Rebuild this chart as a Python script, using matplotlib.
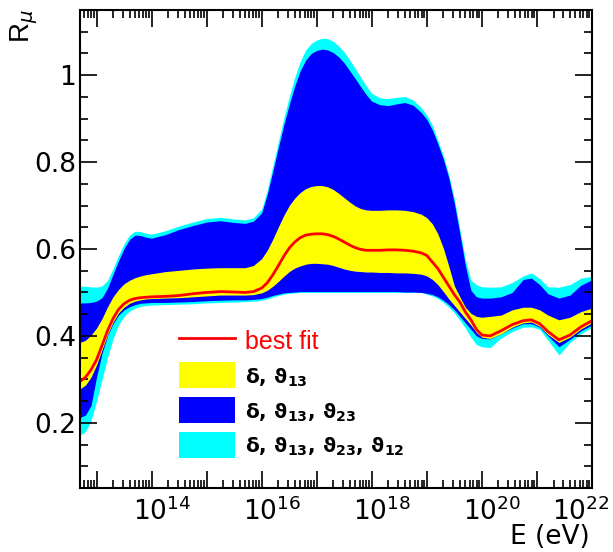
import numpy as np
import matplotlib
matplotlib.use("Agg")
import matplotlib.pyplot as plt
from matplotlib.ticker import LogLocator, MultipleLocator, FuncFormatter, NullFormatter
from matplotlib.transforms import blended_transform_factory, ScaledTranslation
from matplotlib.patches import Patch
from matplotlib.lines import Line2D

plt.rcParams["font.family"] = ["Liberation Sans", "DejaVu Sans"]
plt.rcParams["mathtext.fontset"] = "custom"
plt.rcParams["mathtext.rm"] = "DejaVu Sans"
plt.rcParams["mathtext.it"] = "DejaVu Sans:italic"
plt.rcParams["mathtext.bf"] = "DejaVu Sans:bold"

# log10(E / eV)
log_e = [12.7, 12.8, 12.9, 13.0, 13.1, 13.2, 13.3, 13.4, 13.5, 13.6,
         13.7, 13.8, 13.9, 14.0, 14.25, 14.5, 14.75, 15.0, 15.25, 15.5,
         15.7, 15.85, 16.0, 16.1, 16.2, 16.3, 16.4, 16.5, 16.6, 16.7,
         16.8, 16.9, 17.0, 17.1, 17.2, 17.3, 17.4, 17.5, 17.6, 17.7,
         17.8, 17.9, 18.0, 18.15, 18.3, 18.45, 18.6, 18.75, 18.9, 19.0,
         19.1, 19.2, 19.3, 19.4, 19.5, 19.6, 19.7, 19.8, 19.9, 20.0,
         20.15, 20.35, 20.55, 20.75, 20.9, 21.05, 21.2, 21.4, 21.6, 21.8, 22.0]

# best fit
r_best = [0.295, 0.305, 0.322, 0.345, 0.378, 0.412, 0.44, 0.461, 0.474, 0.482,
          0.486, 0.488, 0.489, 0.49, 0.491, 0.493, 0.497, 0.5, 0.502, 0.501,
          0.5, 0.502, 0.51, 0.522, 0.54, 0.561, 0.583, 0.602, 0.616, 0.626,
          0.632, 0.634, 0.635, 0.635, 0.633, 0.629, 0.623, 0.616, 0.609, 0.603,
          0.599, 0.597, 0.597, 0.597, 0.598, 0.598, 0.597, 0.595, 0.591, 0.585,
          0.57, 0.555, 0.535, 0.515, 0.495, 0.478, 0.455, 0.437, 0.415, 0.402,
          0.4, 0.412, 0.426, 0.435, 0.437, 0.428, 0.41, 0.391, 0.402, 0.421, 0.435]

# delta, theta13
y_lo = [0.278, 0.287, 0.305, 0.333, 0.368, 0.403, 0.432, 0.453, 0.466, 0.475,
        0.48, 0.483, 0.485, 0.486, 0.487, 0.488, 0.49, 0.492, 0.494, 0.494,
        0.494, 0.495, 0.499, 0.505, 0.514, 0.525, 0.537, 0.548, 0.556, 0.561,
        0.565, 0.567, 0.567, 0.566, 0.565, 0.562, 0.558, 0.554, 0.551, 0.549,
        0.548, 0.547, 0.547, 0.546, 0.546, 0.545, 0.545, 0.544, 0.542, 0.538,
        0.53, 0.518, 0.502, 0.485, 0.47, 0.455, 0.44, 0.425, 0.408, 0.397,
        0.394, 0.405, 0.42, 0.43, 0.432, 0.422, 0.403, 0.385, 0.397, 0.416, 0.43]
y_hi = [0.385, 0.39, 0.402, 0.418, 0.44, 0.467, 0.49, 0.507, 0.52, 0.528,
        0.534, 0.538, 0.541, 0.543, 0.548, 0.551, 0.554, 0.556, 0.557, 0.557,
        0.557, 0.562, 0.578, 0.597, 0.622, 0.65, 0.677, 0.7, 0.717, 0.73,
        0.739, 0.744, 0.746, 0.746, 0.743, 0.737, 0.728, 0.718, 0.708, 0.699,
        0.693, 0.69, 0.689, 0.689, 0.69, 0.69, 0.689, 0.686, 0.68, 0.672,
        0.658, 0.635, 0.602, 0.56, 0.515, 0.49, 0.466, 0.452, 0.445, 0.443,
        0.445, 0.448, 0.46, 0.466, 0.466, 0.46, 0.448, 0.437, 0.443, 0.456, 0.464]

# delta, theta13, theta23
b_lo = [0.212, 0.218, 0.24, 0.305, 0.36, 0.4, 0.428, 0.448, 0.46, 0.467,
        0.472, 0.475, 0.476, 0.477, 0.477, 0.478, 0.479, 0.481, 0.482, 0.483,
        0.483, 0.484, 0.486, 0.489, 0.493, 0.496, 0.499, 0.5, 0.501, 0.502,
        0.502, 0.502, 0.502, 0.502, 0.502, 0.502, 0.502, 0.502, 0.502, 0.502,
        0.502, 0.502, 0.502, 0.502, 0.502, 0.502, 0.501, 0.501, 0.5, 0.498,
        0.495, 0.49, 0.482, 0.472, 0.46, 0.445, 0.43, 0.415, 0.4, 0.394,
        0.393, 0.405, 0.418, 0.428, 0.428, 0.42, 0.4, 0.375, 0.392, 0.412, 0.425]
b_hi = [0.476, 0.476, 0.477, 0.48, 0.488, 0.51, 0.542, 0.573, 0.601, 0.622,
        0.632, 0.631, 0.627, 0.625, 0.633, 0.645, 0.654, 0.662, 0.665, 0.661,
        0.659, 0.664, 0.683, 0.725, 0.778, 0.832, 0.885, 0.932, 0.975, 1.01,
        1.035, 1.05, 1.057, 1.06, 1.058, 1.052, 1.042, 1.028, 1.01, 0.992,
        0.973, 0.955, 0.94, 0.932, 0.93, 0.934, 0.937, 0.931, 0.914, 0.898,
        0.874, 0.842, 0.807, 0.763, 0.705, 0.635, 0.562, 0.505, 0.49, 0.487,
        0.487, 0.49, 0.5, 0.53, 0.533, 0.518, 0.497, 0.487, 0.494, 0.517, 0.529]

# delta, theta13, theta23, theta12
c_lo = [0.172, 0.18, 0.205, 0.25, 0.3, 0.35, 0.393, 0.425, 0.445, 0.457,
        0.464, 0.468, 0.47, 0.471, 0.472, 0.473, 0.474, 0.476, 0.477, 0.478,
        0.479, 0.48, 0.482, 0.485, 0.489, 0.493, 0.496, 0.498, 0.499, 0.5,
        0.5, 0.5, 0.5, 0.5, 0.5, 0.5, 0.5, 0.5, 0.5, 0.5,
        0.5, 0.5, 0.5, 0.5, 0.5, 0.5, 0.5, 0.5, 0.5, 0.496,
        0.492, 0.486, 0.477, 0.466, 0.453, 0.436, 0.418, 0.397, 0.38, 0.375,
        0.373, 0.395, 0.41, 0.42, 0.421, 0.415, 0.39, 0.356, 0.385, 0.405, 0.42]
c_hi = [0.515, 0.514, 0.513, 0.512, 0.515, 0.528, 0.555, 0.585, 0.612, 0.632,
        0.641, 0.64, 0.636, 0.634, 0.642, 0.653, 0.662, 0.67, 0.673, 0.669,
        0.667, 0.672, 0.692, 0.735, 0.79, 0.845, 0.9, 0.95, 0.995, 1.032,
        1.058, 1.073, 1.081, 1.085, 1.084, 1.078, 1.067, 1.053, 1.035, 1.015,
        0.995, 0.975, 0.958, 0.948, 0.946, 0.949, 0.951, 0.943, 0.925, 0.908,
        0.885, 0.85, 0.815, 0.77, 0.715, 0.645, 0.575, 0.528, 0.518, 0.513,
        0.512, 0.513, 0.523, 0.538, 0.545, 0.532, 0.513, 0.512, 0.518, 0.533, 0.537]

labels = ["best fit",
          r"$\mathbf{\delta,\,\vartheta_{13}}$",
          r"$\mathbf{\delta,\,\vartheta_{13},\,\vartheta_{23}}$",
          r"$\mathbf{\delta,\,\vartheta_{13},\,\vartheta_{23},\,\vartheta_{12}}$"]
label_decades = [14, 16, 18, 20, 22]

energy = 10.0 ** np.array(log_e)

fig = plt.figure(figsize=(6.13, 5.52), dpi=100)
ax = fig.add_axes([80 / 613, 1 - 488 / 552, 512 / 613, 478 / 552])

ax.fill_between(energy, c_lo, c_hi, color="#00ffff", linewidth=0)
ax.fill_between(energy, b_lo, b_hi, color="#0000ff", linewidth=0)
ax.fill_between(energy, y_lo, y_hi, color="#ffff00", linewidth=0)
ax.plot(energy, r_best, color="#ff0000", linewidth=2)

ax.set_xscale("log")
ax.set_xlim(10 ** 12.7, 1e22)
ax.set_ylim(0.05, 1.15)

ax.xaxis.set_major_locator(LogLocator(base=10, numticks=30))
ax.xaxis.set_minor_locator(LogLocator(base=10, subs=np.arange(2, 10), numticks=30))
ax.xaxis.set_major_formatter(NullFormatter())
ax.xaxis.set_minor_formatter(NullFormatter())
ax.yaxis.set_major_locator(MultipleLocator(0.2))
ax.yaxis.set_minor_locator(MultipleLocator(0.05))
ax.yaxis.set_major_formatter(FuncFormatter(lambda v, p: "%g" % round(v, 2)))

ax.tick_params(which="both", direction="in", top=True, right=True, width=1.2)
ax.tick_params(which="major", length=12.5)
ax.tick_params(which="minor", length=5.8)
ax.tick_params(axis="y", which="major", pad=3, labelsize=19)
for lab in ax.get_yticklabels():
    lab.set_family("DejaVu Sans")
for s in ax.spines.values():
    s.set_linewidth(1.5)

# decade labels: the "10" sits on the tick, the exponent hangs to the right
xtrans = blended_transform_factory(ax.transData, ax.transAxes)
for n in label_decades:
    if n == label_decades[-1]:
        off = ScaledTranslation(0.18, -0.32, fig.dpi_scale_trans)
        ha = "right"
    else:
        off = ScaledTranslation(-0.185, -0.32, fig.dpi_scale_trans)
        ha = "left"
    ax.text(10.0 ** n, 0, r"$10^{%d}$" % n, transform=xtrans + off,
            ha=ha, va="baseline", fontsize=19, family="DejaVu Sans")

fig.text(24 / 613, 1 - 9 / 552, r"R$_{\mu}$", rotation=90, ha="center", va="top", fontsize=20)
fig.text(590 / 613, 1 - 544 / 552, "E (eV)", ha="right", va="baseline", fontsize=19,
         family="DejaVu Sans")

handles = [Line2D([], [], color="#ff0000", linewidth=2),
           Patch(color="#ffff00", linewidth=0),
           Patch(color="#0000ff", linewidth=0),
           Patch(color="#00ffff", linewidth=0)]
leg = ax.legend(handles, labels, loc="upper left", bbox_to_anchor=(0.193, 0.336),
                frameon=False, fontsize=18, handlelength=2.24, handleheight=1.24,
                handletextpad=0.4, labelspacing=0.32, borderpad=0, borderaxespad=0)
texts = leg.get_texts()
texts[0].set_color("#ff0000")
for t in texts[1:]:
    t.set_fontsize(14.5)

fig.savefig("out.png", dpi=100)
